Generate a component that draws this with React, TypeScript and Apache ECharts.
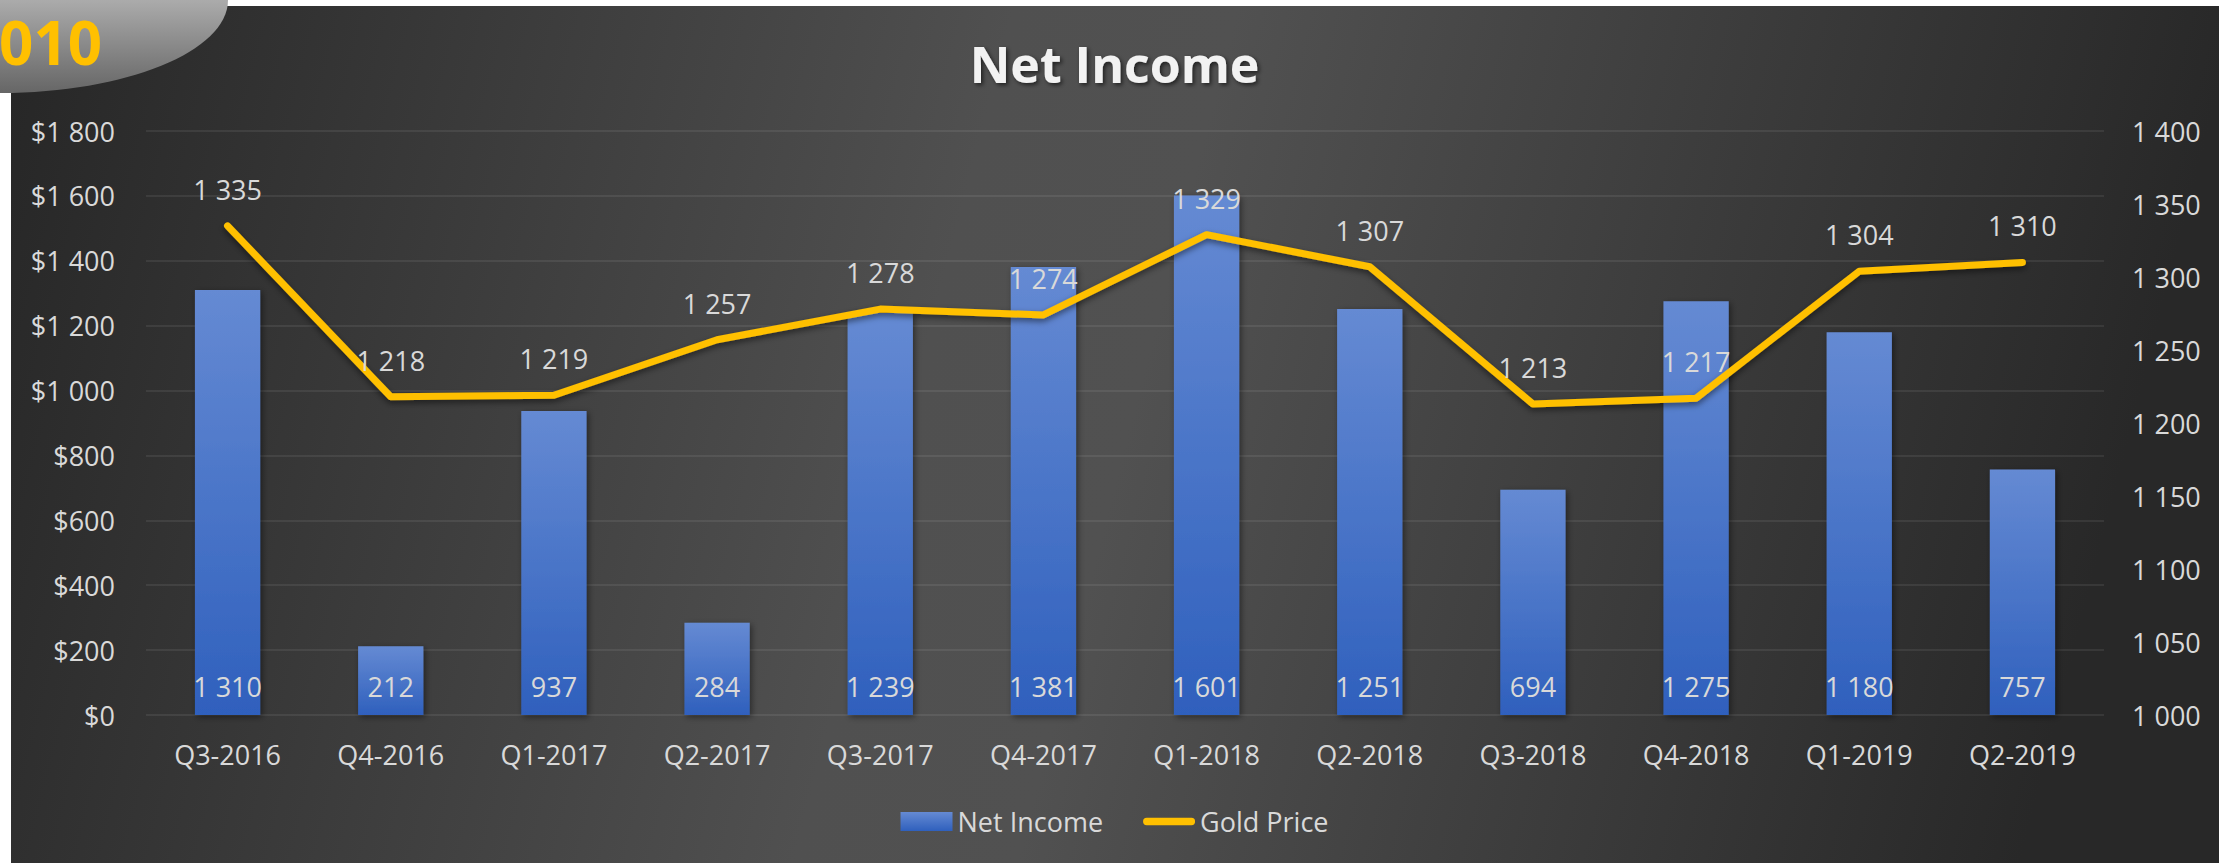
import React, { useEffect, useRef } from "react";
import * as echarts from "echarts";

const categories = [
  "Q3-2016", "Q4-2016", "Q1-2017", "Q2-2017", "Q3-2017", "Q4-2017",
  "Q1-2018", "Q2-2018", "Q3-2018", "Q4-2018", "Q1-2019", "Q2-2019",
];
const netIncome = [1310, 212, 937, 284, 1239, 1381, 1601, 1251, 694, 1275, 1180, 757];
const goldPrice = [1335, 1218, 1219, 1257, 1278, 1274, 1329, 1307, 1213, 1217, 1304, 1310];
const leftAxisTicks = { min: 0, max: 1800, interval: 200 };
const rightAxisTicks = { min: 1000, max: 1400, interval: 50 };

const FONT = "'Open Sans', 'Noto Sans', sans-serif";
const LABEL = "#d9d9d9";

const fmt = (v: number) => {
  const s = Math.round(v).toString();
  return s.replace(/\B(?=(\d{3})+(?!\d))/g, " ");
};

export default function App() {
  const ref = useRef<HTMLDivElement>(null);
  useEffect(() => {
    if (!ref.current) return;
    const chart = echarts.init(ref.current, undefined, { renderer: "svg" });
    chart.setOption({
      animation: false,
      backgroundColor: "#ffffff",
      graphic: [
        {
          type: "rect",
          z: -10,
          silent: true,
          shape: { x: 11, y: 6, width: 2208, height: 857 },
          style: {
            fill: new echarts.graphic.LinearGradient(0, 0, 1, 0.1, [
              { offset: 0, color: "#262626" },
              { offset: 0.45, color: "#505050" },
              { offset: 0.55, color: "#515151" },
              { offset: 1, color: "#282828" },
            ]),
          },
        },
        {
          type: "ellipse",
          z: 100,
          silent: true,
          shape: { cx: 0, cy: 0, rx: 228, ry: 93 },
          style: {
            fill: new echarts.graphic.LinearGradient(0, 0, 0, 1, [
              { offset: 0, color: "#c8c8c8" },
              { offset: 0.5, color: "#ababab" },
              { offset: 1, color: "#666666" },
            ]),
          },
        },
        {
          type: "text",
          z: 101,
          silent: true,
          x: 102,
          y: 42,
          style: {
            text: "2010",
            fill: "#FFC000",
            fontSize: 60,
            fontWeight: "bold",
            fontFamily: FONT,
            textAlign: "right",
            textVerticalAlign: "middle",
            verticalAlign: "middle",
          },
        },
      ],
      title: {
        text: "Net Income",
        left: "center",
        top: 34,
        textStyle: {
          color: "#f2f2f2",
          fontSize: 50,
          fontWeight: "bold",
          fontFamily: FONT,
          textShadowColor: "rgba(0,0,0,0.6)",
          textShadowBlur: 4,
          textShadowOffsetX: 2,
          textShadowOffsetY: 2,
        },
      },
      legend: {
        left: "center",
        top: 803,
        itemWidth: 52,
        itemHeight: 19,
        itemGap: 40,
        textStyle: { color: LABEL, fontSize: 27, fontFamily: FONT },
        data: [
          { name: "Net Income", icon: "rect" },
          {
            name: "Gold Price",
            icon: "path://M7,0 L93,0 A7,7 0 0 1 93,14 L7,14 A7,7 0 0 1 7,0 Z",
            itemStyle: { color: "#FFC000" },
          },
        ],
      },
      grid: { left: 146, right: 125, top: 131, bottom: 150, containLabel: false },
      xAxis: {
        type: "category",
        data: categories,
        axisLine: { show: false },
        axisTick: { show: false },
        axisLabel: { color: LABEL, fontSize: 27, fontFamily: FONT, margin: 26 },
      },
      yAxis: [
        {
          type: "value",
          min: leftAxisTicks.min,
          max: leftAxisTicks.max,
          interval: leftAxisTicks.interval,
          axisLine: { show: false },
          axisTick: { show: false },
          axisLabel: {
            color: LABEL,
            fontSize: 27,
            fontFamily: FONT,
            margin: 31,
            formatter: (v: number) => "$" + fmt(v),
          },
          splitLine: { lineStyle: { color: "rgba(255,255,255,0.1)", width: 1.5 } },
        },
        {
          type: "value",
          min: rightAxisTicks.min,
          max: rightAxisTicks.max,
          interval: rightAxisTicks.interval,
          axisLine: { show: false },
          axisTick: { show: false },
          splitLine: { show: false },
          axisLabel: {
            color: LABEL,
            fontSize: 27,
            fontFamily: FONT,
            margin: 28,
            formatter: (v: number) => fmt(v),
          },
        },
      ],
      series: [
        {
          name: "Net Income",
          type: "bar",
          data: netIncome,
          barWidth: "40%",
          itemStyle: {
            color: new echarts.graphic.LinearGradient(0, 0, 0, 1, [
              { offset: 0, color: "#658ad3" },
              { offset: 1, color: "#2f60bd" },
            ]),
            shadowColor: "rgba(0,0,0,0.45)",
            shadowBlur: 6,
            shadowOffsetX: 2,
            shadowOffsetY: 2,
          },
          label: {
            show: true,
            position: "insideBottom",
            distance: 15,
            color: LABEL,
            fontSize: 27,
            fontFamily: FONT,
            formatter: (p: any) => fmt(p.value),
          },
        },
        {
          name: "Gold Price",
          type: "line",
          yAxisIndex: 1,
          data: goldPrice,
          symbol: "circle",
          symbolSize: 2,
          z: 5,
          itemStyle: { color: "#FFC000" },
          lineStyle: {
            color: "#FFC000",
            width: 7,
            cap: "round",
            join: "round",
            shadowColor: "rgba(0,0,0,0.5)",
            shadowBlur: 6,
            shadowOffsetY: 3,
          },
          label: {
            show: true,
            position: "top",
            distance: 22,
            color: LABEL,
            fontSize: 27,
            fontFamily: FONT,
            formatter: (p: any) => fmt(p.value),
          },
        },
      ],
    });
    return () => chart.dispose();
  }, []);
  return (
    <div
      ref={ref}
      style={{ position: "absolute", left: 0, top: 0, width: 2229, height: 865 }}
    />
  );
}
